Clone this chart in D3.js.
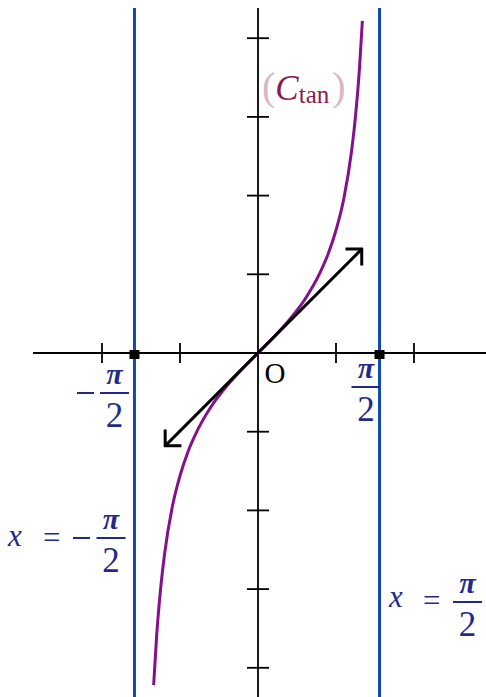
<!DOCTYPE html>
<html>
<head>
<meta charset="utf-8">
<script src="https://cdn.jsdelivr.net/npm/d3@7"></script>
<style>
  body { margin: 0; background: #fff; }
  text { font-family: "Liberation Serif", "DejaVu Serif", serif; }
</style>
</head>
<body>
<div class="vis-holder"></div>
<script>
// tick positions (in units) on both axes
var xTicks = [-2, -1, 1, 2];
var yTicks = [-4, -3, -2, -1, 1, 2, 3, 4];
// vertical asymptotes x = -pi/2 and x = pi/2
var asymptotes = [-Math.PI / 2, Math.PI / 2];
// points
var curveX = [-1.338, -1.3, -1.25, -1.2, -1.1, -1.0, -0.9, -0.8, -0.6, -0.4, -0.2, 0,
              0.2, 0.4, 0.6, 0.8, 0.9, 1.0, 1.1, 1.2, 1.25, 1.3, 1.338];
var curveY = [-4.22, -3.60, -3.01, -2.57, -1.96, -1.56, -1.26, -1.03, -0.68, -0.42, -0.20, 0,
              0.20, 0.42, 0.68, 1.03, 1.26, 1.56, 1.96, 2.57, 3.01, 3.60, 4.22];
// tangent line at the origin (y = x), arrows at both ends
var tangentX = [-1.19, 1.33];
var tangentY = [-1.18, 1.32];

var width = 486;
var height = 697;
var navy = "#1f2a8c";

var svg = d3.select(".vis-holder")
            .append("svg")
            .attr("width", width)
            .attr("height", height);

// 1 unit = 78px horizontally, ~78.7px vertically, origin at (258, 353)
var xScale = d3.scaleLinear().domain([-1, 1]).range([180, 336]);
var yScale = d3.scaleLinear().domain([-1, 1]).range([431.7, 274.3]);

var defs = svg.append("defs");
defs.append("marker")
    .attr("id", "arrow")
    .attr("viewBox", "-15 -14 17 28")
    .attr("markerWidth", 17)
    .attr("markerHeight", 28)
    .attr("refX", 0)
    .attr("refY", 0)
    .attr("markerUnits", "userSpaceOnUse")
    .attr("orient", "auto-start-reverse")
    .append("path")
    .attr("d", "M-11.5,-11.5 L0,0 L-11.5,11.5")
    .attr("fill", "none")
    .attr("stroke", "#000")
    .attr("stroke-width", 3);

// axes
svg.append("line")
   .attr("x1", 33).attr("x2", width)
   .attr("y1", yScale(0)).attr("y2", yScale(0))
   .attr("stroke", "#000").attr("stroke-width", 1.8);
svg.append("line")
   .attr("x1", xScale(0)).attr("x2", xScale(0))
   .attr("y1", 8).attr("y2", height)
   .attr("stroke", "#000").attr("stroke-width", 1.8);

svg.append("g").selectAll("line")
   .data(xTicks).enter().append("line")
   .attr("x1", function(d) { return xScale(d); })
   .attr("x2", function(d) { return xScale(d); })
   .attr("y1", yScale(0) - 10).attr("y2", yScale(0) + 10)
   .attr("stroke", "#000").attr("stroke-width", 1.8);

svg.append("g").selectAll("line")
   .data(yTicks).enter().append("line")
   .attr("x1", xScale(0) - 11).attr("x2", xScale(0) + 11)
   .attr("y1", function(d) { return yScale(d); })
   .attr("y2", function(d) { return yScale(d); })
   .attr("stroke", "#000").attr("stroke-width", 1.8);

// asymptotes
svg.append("g").selectAll("line")
   .data(asymptotes).enter().append("line")
   .attr("x1", function(d) { return xScale(d) - 1; })
   .attr("x2", function(d) { return xScale(d) - 1; })
   .attr("y1", 8).attr("y2", height)
   .attr("stroke", "#1249b4").attr("stroke-width", 3);

svg.append("g").selectAll("rect")
   .data(asymptotes).enter().append("rect")
   .attr("x", function(d) { return xScale(d) - 6; })
   .attr("y", yScale(0) - 3)
   .attr("width", 10).attr("height", 9)
   .attr("fill", "#000");

// tan curve
var curve = d3.line()
              .x(function(d, i) { return xScale(curveX[i]); })
              .y(function(d) { return yScale(d); })
              .curve(d3.curveMonotoneX);
svg.append("path")
   .attr("d", curve(curveY))
   .attr("fill", "none")
   .attr("stroke", "#85108c")
   .attr("stroke-width", 3);

// tangent with arrows
svg.append("line")
   .attr("x1", xScale(tangentX[0])).attr("y1", yScale(tangentY[0]))
   .attr("x2", xScale(tangentX[1])).attr("y2", yScale(tangentY[1]))
   .attr("stroke", "#000").attr("stroke-width", 3)
   .attr("marker-start", "url(#arrow)")
   .attr("marker-end", "url(#arrow)");

// labels
svg.append("text")
   .attr("x", 275).attr("y", 383)
   .attr("text-anchor", "middle")
   .attr("font-size", 29)
   .attr("fill", "#000")
   .text("O");

// fraction helper: pi over 2, bar centred on cx at height y, optional minus sign
function fraction(cx, y, minusX) {
  var g = svg.append("g").attr("fill", navy);
  g.append("text").attr("x", cx).attr("y", y - 9)
   .attr("text-anchor", "middle").attr("font-size", 30)
   .attr("font-style", "italic").attr("font-weight", "bold").text("π");
  g.append("line").attr("x1", cx - 14.5).attr("x2", cx + 14.5)
   .attr("y1", y).attr("y2", y)
   .attr("stroke", navy).attr("stroke-width", 2);
  g.append("text").attr("x", cx).attr("y", y + 34)
   .attr("text-anchor", "middle").attr("font-size", 35).text("2");
  if (minusX !== undefined) {
    g.append("line").attr("x1", minusX).attr("x2", minusX + 17)
     .attr("y1", y).attr("y2", y)
     .attr("stroke", navy).attr("stroke-width", 2);
  }
}

fraction(114.5, 393, 77);
fraction(366, 387);

// x = -pi/2
svg.append("text").attr("x", 8).attr("y", 546).attr("fill", navy)
   .attr("font-size", 31).attr("font-style", "italic").text("x");
svg.append("text").attr("x", 43).attr("y", 548).attr("fill", navy)
   .attr("font-size", 31).text("=");
fraction(111, 538, 73);

// x = pi/2
svg.append("text").attr("x", 389).attr("y", 607).attr("fill", navy)
   .attr("font-size", 31).attr("font-style", "italic").text("x");
svg.append("text").attr("x", 423).attr("y", 611).attr("fill", navy)
   .attr("font-size", 31).text("=");
fraction(467.5, 602);

// (C_tan)
var lab = svg.append("text").attr("x", 262).attr("y", 100);
lab.append("tspan").attr("fill", "#d8b8c8").attr("font-size", 40).text("(");
lab.append("tspan").attr("fill", "#8a1a50").attr("font-size", 35)
   .attr("font-style", "italic").text("C");
lab.append("tspan").attr("fill", "#8a1a50").attr("font-size", 25)
   .attr("dy", 3).text("tan");
lab.append("tspan").attr("fill", "#d8b8c8").attr("font-size", 40)
   .attr("dy", -3).attr("dx", 3).text(")");
</script>
</body>
</html>
